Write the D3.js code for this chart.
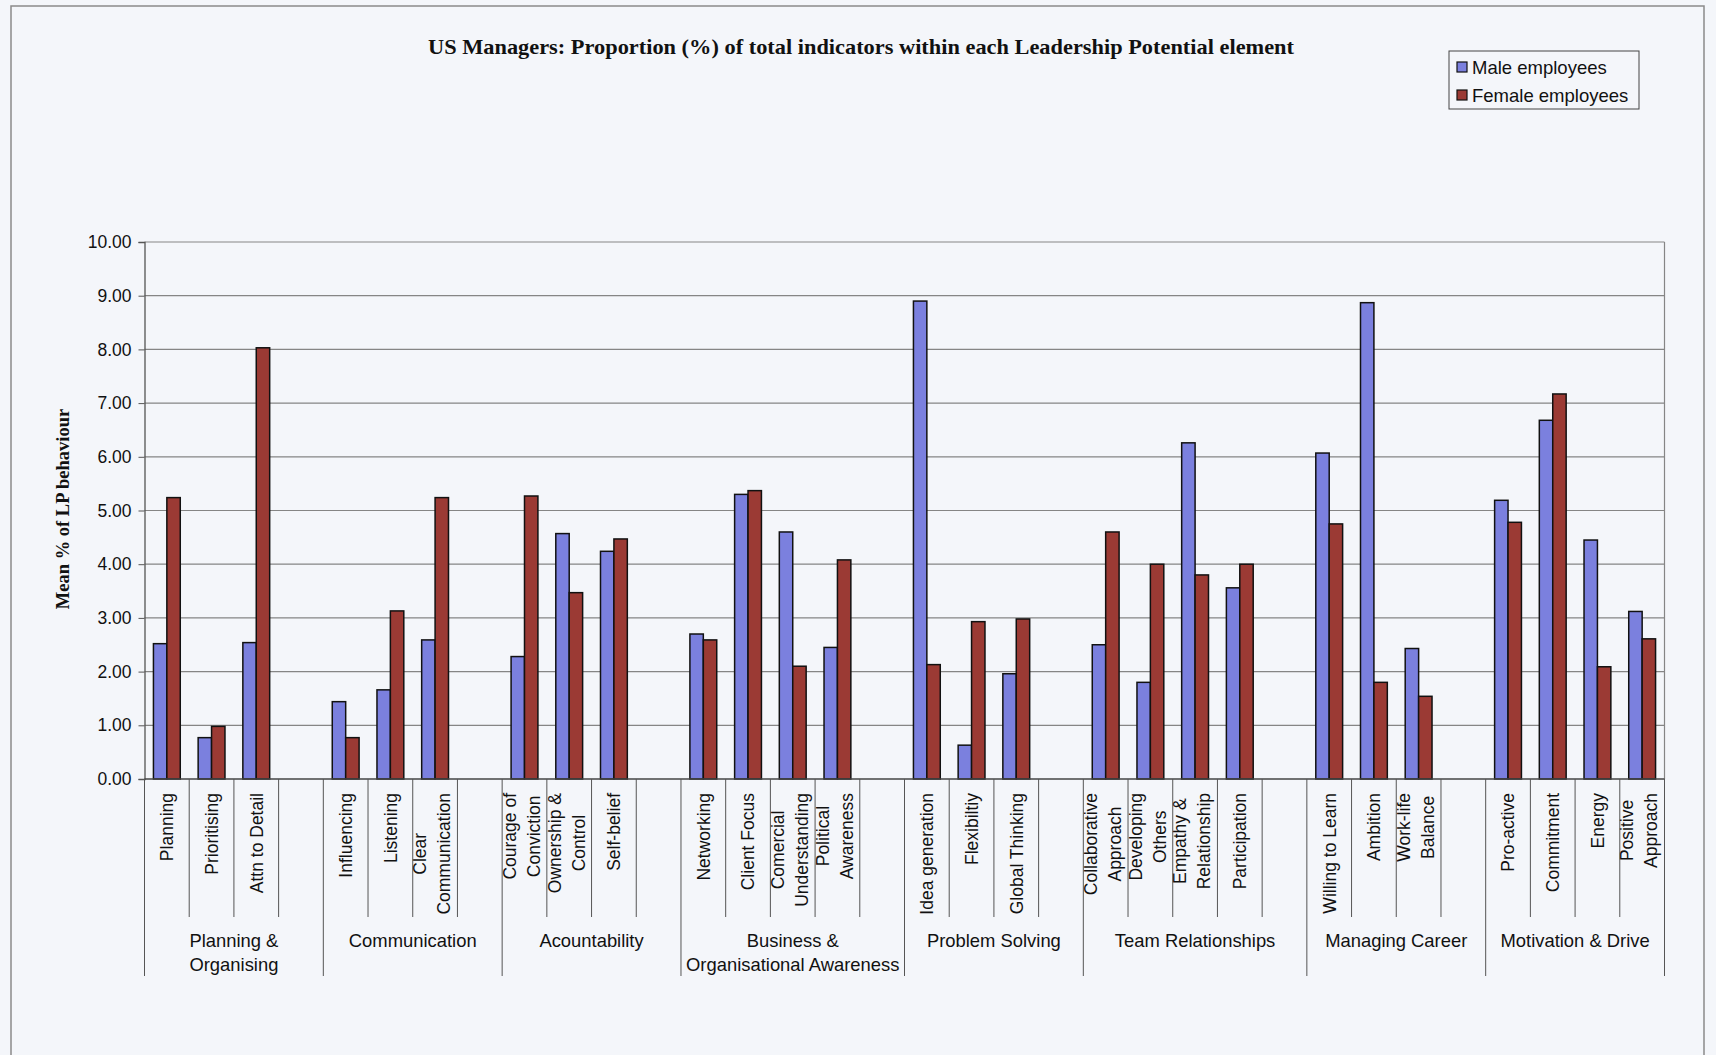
<!DOCTYPE html>
<html>
<head>
<meta charset="utf-8">
<script src="https://cdn.jsdelivr.net/npm/d3@7"></script>
<style>
  body { margin: 0; background: #f4f6fa; }
  svg { display: block; }
</style>
</head>
<body>
<svg id="chart" width="1716" height="1055"></svg>
<script>
// data: one slot per category, null = the empty spacer slot Excel left between groups
var groupNames = ["Planning &\nOrganising", "Communication", "Acountability",
  "Business &\nOrganisational Awareness", "Problem Solving", "Team Relationships",
  "Managing Career", "Motivation & Drive"];
var groupSlots = [4, 4, 4, 5, 4, 5, 4, 4];

var categories = [
  "Planning", "Prioritising", "Attn to Detail", null,
  "Influencing", "Listening", "Clear\nCommunication", null,
  "Courage of\nConviction", "Ownership &\nControl", "Self-belief", null,
  "Networking", "Client Focus", "Comercial\nUnderstanding", "Political\nAwareness", null,
  "Idea generation", "Flexibiltiy", "Global Thinking", null,
  "Collaborative\nApproach", "Developing\nOthers", "Empathy &\nRelationship", "Participation", null,
  "Willing to Learn", "Ambition", "Work-life\nBalance", null,
  "Pro-active", "Commitment", "Energy", "Positive\nApproach"
];

var male = [2.52, 0.77, 2.54, null,
  1.44, 1.66, 2.59, null,
  2.28, 4.57, 4.24, null,
  2.70, 5.30, 4.60, 2.45, null,
  8.90, 0.63, 1.96, null,
  2.50, 1.80, 6.26, 3.56, null,
  6.07, 8.87, 2.43, null,
  5.19, 6.68, 4.45, 3.12];

var female = [5.24, 0.98, 8.03, null,
  0.77, 3.13, 5.24, null,
  5.27, 3.47, 4.47, null,
  2.59, 5.37, 2.10, 4.08, null,
  2.13, 2.93, 2.98, null,
  4.60, 4.00, 3.80, 4.00, null,
  4.75, 1.80, 1.54, null,
  4.78, 7.17, 2.09, 2.61];

var yTicks = [0, 1, 2, 3, 4, 5, 6, 7, 8, 9, 10];
var seriesNames = ["Male employees", "Female employees"];
var seriesColors = ["#7b80de", "#9b3a34"];

var svg = d3.select("#chart"),
    width = +svg.attr("width"),
    height = +svg.attr("height");

var plot = {left: 144.5, right: 1664.5, top: 242, bottom: 779};
var sansFont = "'Liberation Sans', Arial, sans-serif";
var serifFont = "'Liberation Serif', 'Times New Roman', serif";

// outer chart frame
svg.append("rect")
    .attr("x", 11).attr("y", 6)
    .attr("width", 1693).attr("height", 1060)
    .attr("fill", "#f4f6fa")
    .attr("stroke", "#8a8a8a")
    .attr("stroke-width", 1.5);

//////////// SCALES ////////////
var slotIds = d3.range(categories.length);
var x = d3.scaleBand()
    .domain(slotIds)
    .range([plot.left, plot.right])
    .paddingInner(0).paddingOuter(0);

var y = d3.scaleLinear()
    .domain([0, 10])
    .range([plot.bottom, plot.top]);

var slot = x.bandwidth();
var barW = slot * 0.3;

//////////// GRID + AXES ////////////
svg.append("g")
    .attr("class", "grid")
  .selectAll("line")
  .data(yTicks.slice(1))
  .enter().append("line")
    .attr("x1", plot.left).attr("x2", plot.right)
    .attr("y1", function(d) { return y(d); })
    .attr("y2", function(d) { return y(d); })
    .attr("stroke", "#858585")
    .attr("stroke-width", 1.2);

// right edge of the plot area
svg.append("line")
    .attr("x1", plot.right).attr("x2", plot.right)
    .attr("y1", plot.top).attr("y2", plot.bottom)
    .attr("stroke", "#858585").attr("stroke-width", 1.2);

var yAxis = svg.append("g")
    .attr("transform", "translate(" + plot.left + ",0)")
    .call(d3.axisLeft(y).tickValues(yTicks).tickFormat(d3.format(".2f")).tickSizeOuter(0).tickSize(6).tickPadding(7));
yAxis.select(".domain").attr("stroke", "#555").attr("stroke-width", 1.3);
yAxis.selectAll(".tick line").attr("stroke", "#555");
yAxis.selectAll("text")
    .attr("font-family", sansFont)
    .attr("font-size", 17.5)
    .attr("fill", "#111");

//////////// BARS ////////////
var series = [male, female];
series.forEach(function(vals, si) {
  svg.append("g")
      .attr("class", "bars-" + si)
    .selectAll("rect")
    .data(slotIds.filter(function(i) { return vals[i] != null; }))
    .enter().append("rect")
      .attr("x", function(i) { return x(i) + slot * 0.2 + si * barW; })
      .attr("y", function(i) { return y(vals[i]); })
      .attr("width", barW)
      .attr("height", function(i) { return y(0) - y(vals[i]); })
      .attr("fill", seriesColors[si])
      .attr("stroke", "#111")
      .attr("stroke-width", 1.5);
});

// category axis line
svg.append("line")
    .attr("x1", plot.left).attr("x2", plot.right)
    .attr("y1", plot.bottom).attr("y2", plot.bottom)
    .attr("stroke", "#444").attr("stroke-width", 1.3);

//////////// CATEGORY LABELS (two levels) ////////////
var groupEdges = [0];
groupSlots.forEach(function(n, i) { groupEdges.push(groupEdges[i] + n); });

// slot dividers: inner ones short, group ones long
var dividers = d3.range(categories.length + 1);
svg.append("g")
  .selectAll("line")
  .data(dividers)
  .enter().append("line")
    .attr("x1", function(i) { return plot.left + i * slot; })
    .attr("x2", function(i) { return plot.left + i * slot; })
    .attr("y1", plot.bottom)
    .attr("y2", function(i) { return groupEdges.indexOf(i) >= 0 ? 976 : 917; })
    .attr("stroke", "#555")
    .attr("stroke-width", 1);

var lineH = 24;
var catG = svg.append("g").attr("class", "cat-labels");
slotIds.forEach(function(i) {
  if (!categories[i]) return;
  var lines = categories[i].split("\n");
  var shift = lines.length > 1 ? -3 : 0;
  var g = catG.append("g")
      .attr("transform", "translate(" + (x(i) + slot / 2 + shift) + "," + (plot.bottom + 14) + ") rotate(-90)");
  var texts = g.selectAll("text")
    .data(lines)
    .enter().append("text")
      .attr("y", function(d, k) { return (k - (lines.length - 1) / 2) * lineH; })
      .attr("dy", "0.36em")
      .attr("font-family", sansFont)
      .attr("font-size", 17.5)
      .attr("fill", "#111")
      .text(function(d) { return d; });
  // lines centred on each other, whole block hangs from the axis
  var w = d3.max(texts.nodes(), function(n) { return n.getComputedTextLength(); });
  texts.attr("x", -w / 2).attr("text-anchor", "middle");
});

var grpG = svg.append("g").attr("class", "group-labels");
groupNames.forEach(function(name, gi) {
  var cx = plot.left + (groupEdges[gi] + groupEdges[gi + 1]) / 2 * slot;
  name.split("\n").forEach(function(line, k) {
    grpG.append("text")
        .attr("x", cx)
        .attr("y", 940 + k * 24)
        .attr("dy", "0.36em")
        .attr("text-anchor", "middle")
        .attr("font-family", sansFont)
        .attr("font-size", 18.4)
        .attr("fill", "#111")
        .text(line);
  });
});

//////////// TITLE + AXIS TITLE ////////////
svg.append("text")
    .attr("x", 861).attr("y", 54)
    .attr("text-anchor", "middle")
    .attr("font-family", serifFont)
    .attr("font-weight", "bold")
    .attr("font-size", 21)
    .attr("textLength", 866)
    .attr("lengthAdjust", "spacingAndGlyphs")
    .attr("fill", "#111")
    .text("US Managers: Proportion (%) of total indicators within each Leadership Potential element");

svg.append("text")
    .attr("transform", "translate(69,509) rotate(-90)")
    .attr("text-anchor", "middle")
    .attr("font-family", serifFont)
    .attr("font-weight", "bold")
    .attr("font-size", 18.5)
    .attr("fill", "#111")
    .text("Mean % of LP behaviour");

//////////// LEGEND ////////////
var legend = svg.append("g").attr("transform", "translate(1449,51)");
legend.append("rect")
    .attr("width", 190).attr("height", 58)
    .attr("fill", "#f4f6fa")
    .attr("stroke", "#444").attr("stroke-width", 1);
var item = legend.selectAll(".item")
    .data(seriesNames)
    .enter().append("g")
    .attr("class", "item")
    .attr("transform", function(d, i) { return "translate(8," + (16 + i * 28) + ")"; });
item.append("rect")
    .attr("x", 0).attr("y", -5)
    .attr("width", 10).attr("height", 10)
    .attr("fill", function(d, i) { return seriesColors[i]; })
    .attr("stroke", "#111").attr("stroke-width", 1.2);
item.append("text")
    .attr("x", 15)
    .attr("dy", "0.36em")
    .attr("font-family", sansFont)
    .attr("font-size", 18.5)
    .attr("fill", "#111")
    .text(function(d) { return d; });
</script>
</body>
</html>
